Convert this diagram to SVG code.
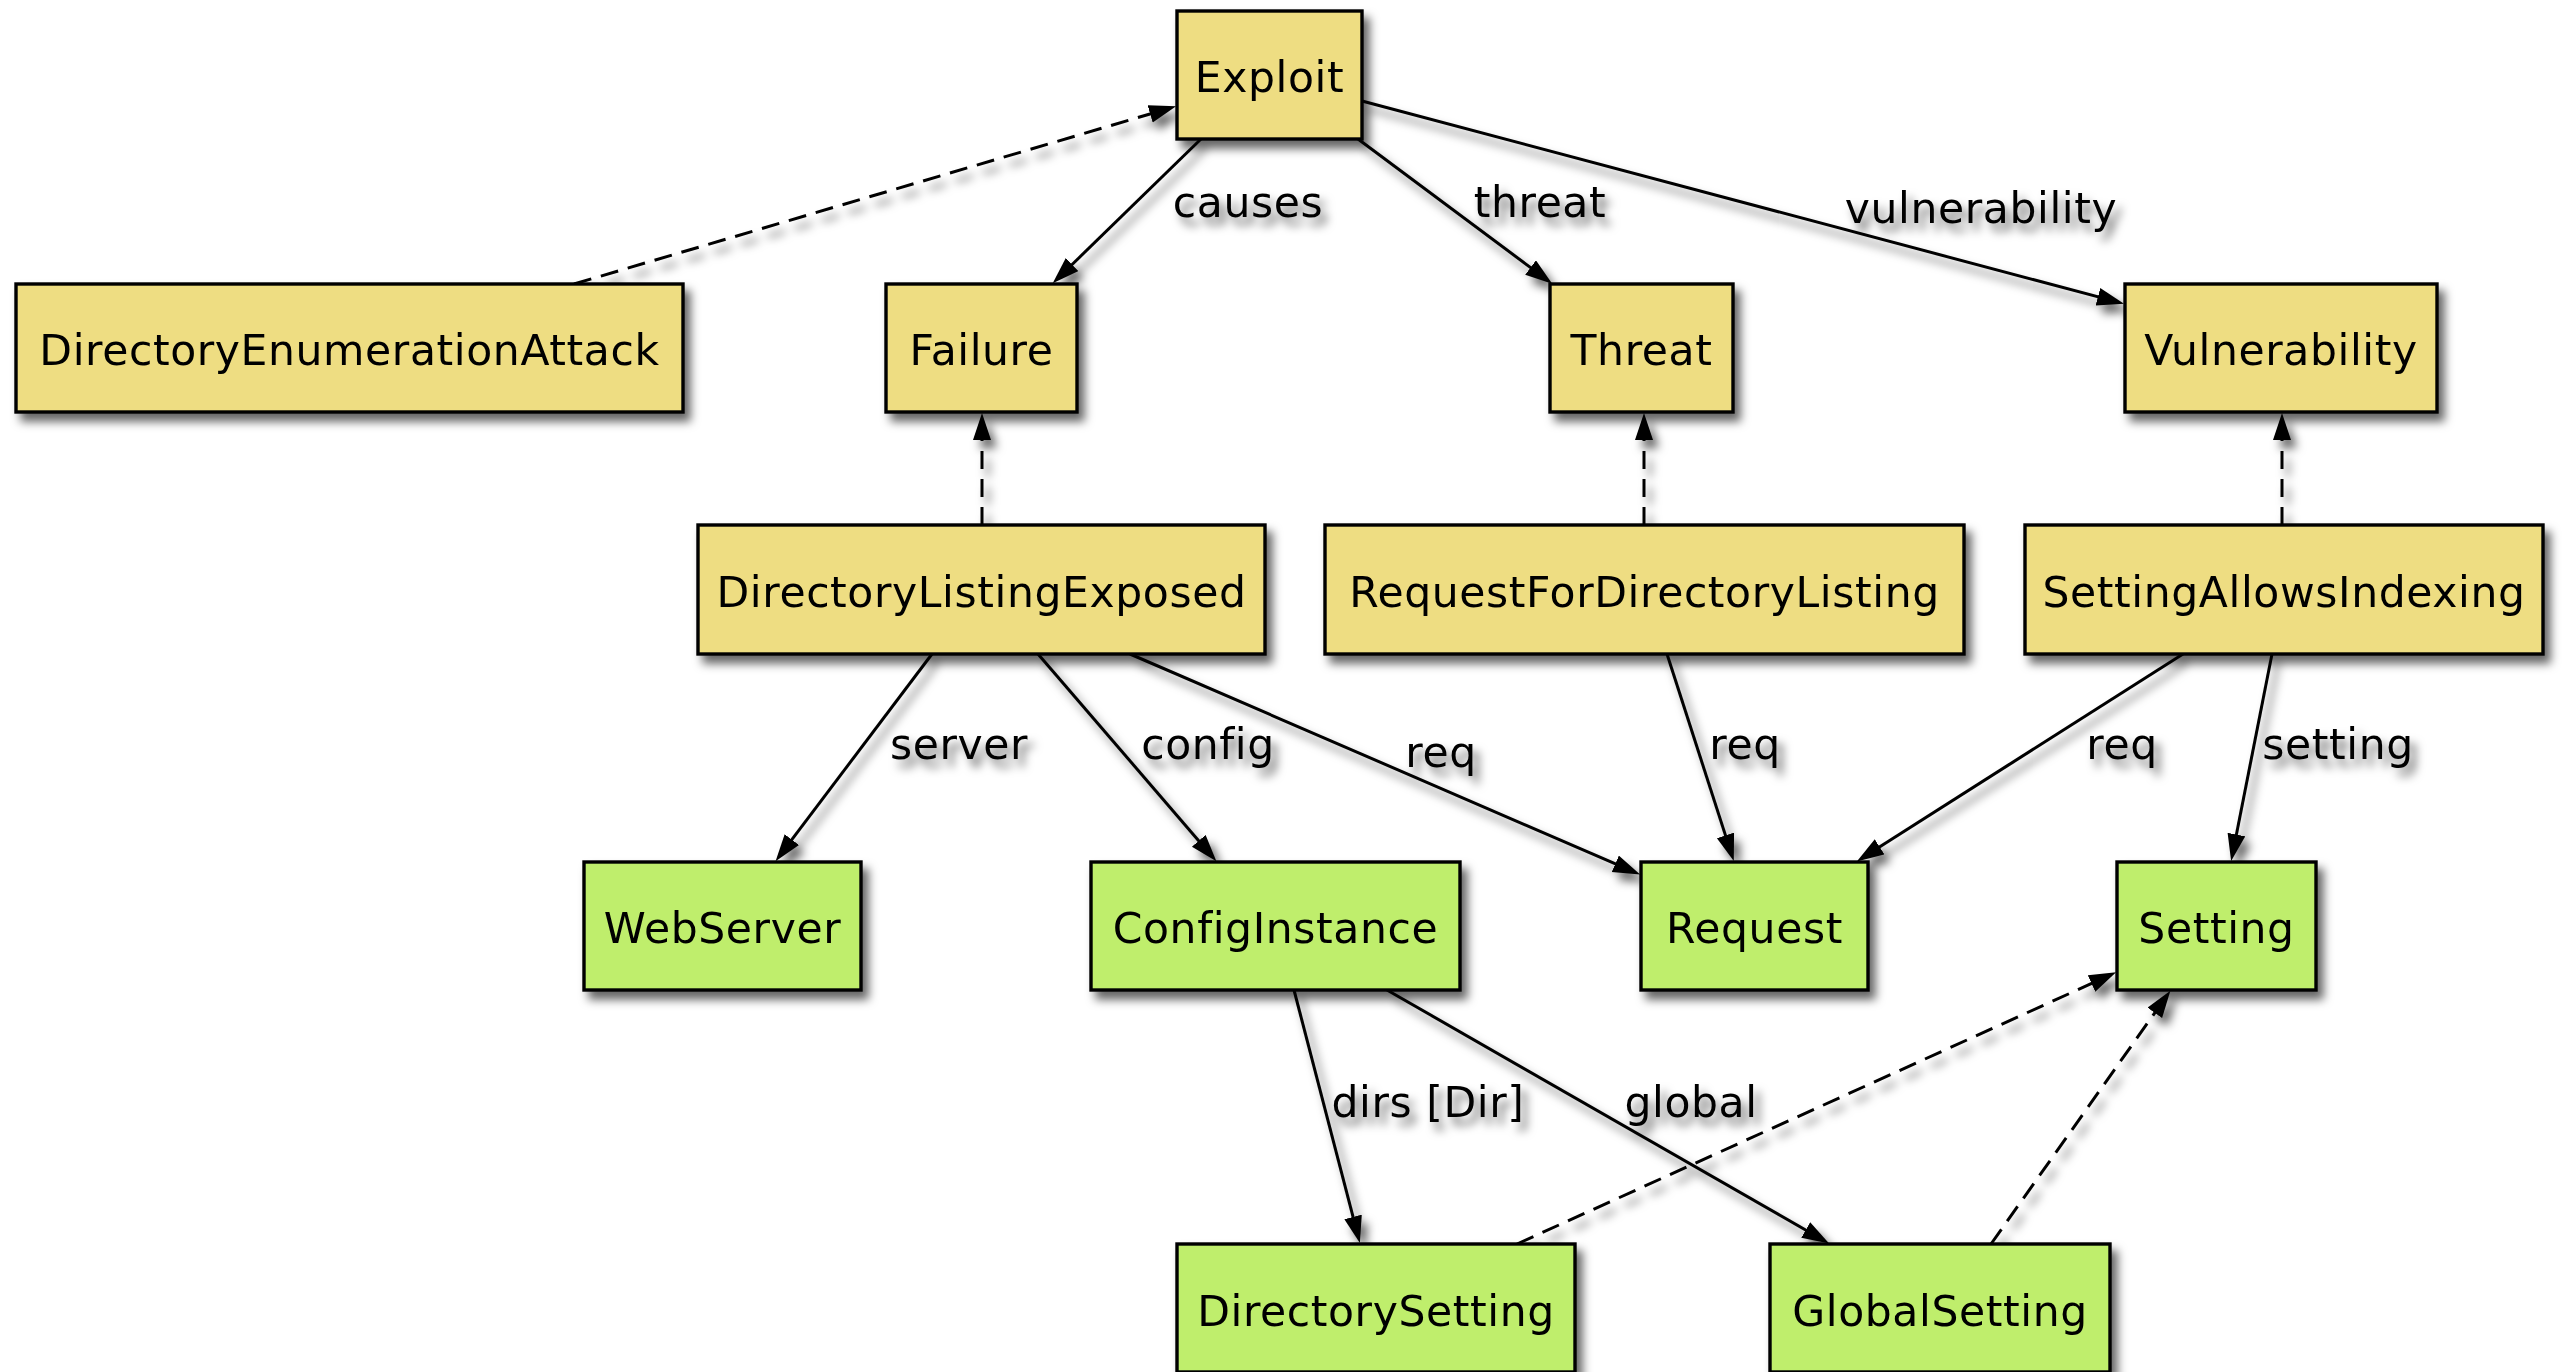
<svg xmlns="http://www.w3.org/2000/svg" width="2563" height="1372" viewBox="0 0 2563 1372">
  <defs>
    <filter id="shadow" x="-5%" y="-5%" width="110%" height="115%">
      <feDropShadow dx="6" dy="8" stdDeviation="5" flood-color="#000" flood-opacity="0.6"/>
    </filter>
    <marker id="arrow" markerUnits="userSpaceOnUse" markerWidth="30" markerHeight="20" refX="16" refY="9" orient="auto">
      <path d="M0,0 L27,9 L0,18 z" fill="#000"/>
    </marker>
  </defs>
  <style>
    .node rect { stroke: #000; stroke-width: 3.4; }
    .c rect { fill: #eedd82; }
    .g rect { fill: #bfee6c; }
    .node text { font-family: "DejaVu Sans", "Liberation Sans", sans-serif; font-size: 42.5px; letter-spacing: 0.6px; fill: #000; text-anchor: middle; }
    .edge { fill: none; stroke: #000; stroke-width: 3; marker-end: url(#arrow); }
    .dash { stroke-dasharray: 18 10; }
    .lbl { font-family: "DejaVu Sans", "Liberation Sans", sans-serif; font-size: 42.5px; letter-spacing: 0.6px; fill: #000; text-anchor: middle; }
  </style>
  <rect width="2563" height="1372" fill="#fff"/>
  <g filter="url(#shadow)">
    <g id="connectors">
      <path class="edge dash" d="M574,284 L1165.5,109.4"/>
      <path class="edge" d="M1201,139 L1060.6,275.7"/>
      <path class="edge" d="M1358,139 L1543.4,277.1"/>
      <path class="edge" d="M1362,101 L2113.4,300.9"/>
      <path class="edge dash" d="M982,525 L982,424"/>
      <path class="edge dash" d="M1644,525 L1644,424"/>
      <path class="edge dash" d="M2282,525 L2282,424"/>
      <path class="edge" d="M932,654 L782.2,852.4"/>
      <path class="edge" d="M1038,654 L1209.2,852.9"/>
      <path class="edge" d="M1130,654 L1630,870.2"/>
      <path class="edge" d="M1667,654 L1730.4,850.6"/>
      <path class="edge" d="M2183,654 L1866.1,855.5"/>
      <path class="edge" d="M2272,654 L2233.3,850.2"/>
      <path class="edge" d="M1294,990 L1357.1,1232.4"/>
      <path class="edge" d="M1387,990 L1819.6,1238"/>
      <path class="edge dash" d="M1517,1244 L2106.1,976.9"/>
      <path class="edge dash" d="M1991,1244 L2164,999.8"/>
      <text class="lbl" x="1248" y="217">causes</text>
      <text class="lbl" x="1540" y="217">threat</text>
      <text class="lbl" x="1981" y="223">vulnerability</text>
      <text class="lbl" x="959" y="759">server</text>
      <text class="lbl" x="1208" y="759">config</text>
      <text class="lbl" x="1441" y="767">req</text>
      <text class="lbl" x="1745" y="759">req</text>
      <text class="lbl" x="2122" y="759">req</text>
      <text class="lbl" x="2338" y="759">setting</text>
      <text class="lbl" x="1428" y="1117">dirs [Dir]</text>
      <text class="lbl" x="1691" y="1117">global</text>
    </g>
    <g id="Exploit" class="node c"><rect x="1177" y="11" width="185" height="128"/><text x="1269.5" y="92">Exploit</text></g>
    <g id="DirectoryEnumerationAttack" class="node c"><rect x="16" y="284" width="667" height="128"/><text x="349.5" y="365">DirectoryEnumerationAttack</text></g>
    <g id="Failure" class="node c"><rect x="886" y="284" width="191" height="128"/><text x="981.5" y="365">Failure</text></g>
    <g id="Threat" class="node c"><rect x="1550" y="284" width="183" height="128"/><text x="1641.5" y="365">Threat</text></g>
    <g id="Vulnerability" class="node c"><rect x="2125" y="284" width="312" height="128"/><text x="2281" y="365">Vulnerability</text></g>
    <g id="DirectoryListingExposed" class="node c"><rect x="698" y="525" width="567" height="129"/><text x="981.5" y="607">DirectoryListingExposed</text></g>
    <g id="RequestForDirectoryListing" class="node c"><rect x="1325" y="525" width="639" height="129"/><text x="1644.5" y="607">RequestForDirectoryListing</text></g>
    <g id="SettingAllowsIndexing" class="node c"><rect x="2025" y="525" width="518" height="129"/><text x="2284" y="607">SettingAllowsIndexing</text></g>
    <g id="WebServer" class="node g"><rect x="584" y="862" width="277" height="128"/><text x="722.5" y="943">WebServer</text></g>
    <g id="ConfigInstance" class="node g"><rect x="1091" y="862" width="369" height="128"/><text x="1275.5" y="943">ConfigInstance</text></g>
    <g id="Request" class="node g"><rect x="1641" y="862" width="227" height="128"/><text x="1754.5" y="943">Request</text></g>
    <g id="Setting" class="node g"><rect x="2117" y="862" width="199" height="128"/><text x="2216.5" y="943">Setting</text></g>
    <g id="DirectorySetting" class="node g"><rect x="1177" y="1244" width="398" height="128"/><text x="1376" y="1326">DirectorySetting</text></g>
    <g id="GlobalSetting" class="node g"><rect x="1770" y="1244" width="340" height="128"/><text x="1940" y="1326">GlobalSetting</text></g>
  </g>
</svg>
